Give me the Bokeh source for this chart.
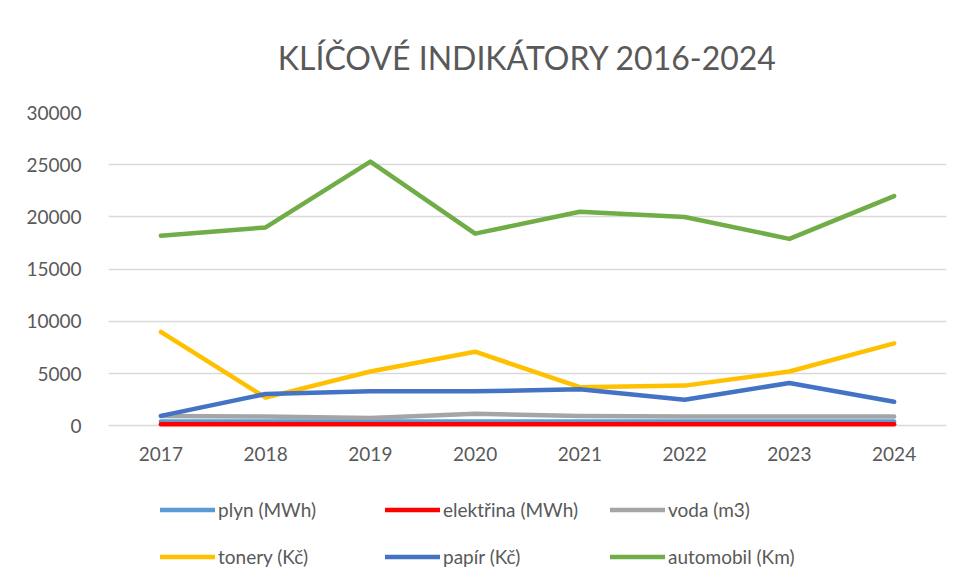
from bokeh.plotting import figure
from bokeh.models import Legend, LegendItem, FactorRange, Range1d, FixedTicker, NumeralTickFormatter
from bokeh.embed import file_html
from bokeh.resources import INLINE

years = ["2017", "2018", "2019", "2020", "2021", "2022", "2023", "2024"]
plyn = [420, 420, 420, 420, 420, 420, 420, 420]
elektrina = [150, 150, 150, 150, 150, 150, 150, 150]
voda = [950, 900, 750, 1150, 950, 900, 900, 900]
tonery = [9000, 2700, 5200, 7100, 3700, 3850, 5200, 7900]
papir = [950, 3050, 3300, 3300, 3500, 2500, 4100, 2300]
automobil = [18200, 19000, 25300, 18400, 20500, 20000, 17900, 22000]
y_ticks = [0, 5000, 10000, 15000, 20000, 25000, 30000]

series = [
    ("plyn (MWh)", plyn, "#5B9BD5"),
    ("elektřina (MWh)", elektrina, "#FF0000"),
    ("voda (m3)", voda, "#A5A5A5"),
    ("tonery (Kč)", tonery, "#FFC000"),
    ("papír (Kč)", papir, "#4472C4"),
    ("automobil (Km)", automobil, "#70AD47"),
]

FONT = "Lato"
TXT = "#595959"

# frame spans the area below the axis too, so the legend can sit inside it
p = figure(width=962, height=582, x_range=FactorRange(*years), y_range=Range1d(-15000, 30000),
           output_backend="svg", toolbar_location=None,
           min_border_left=108, min_border_right=16, min_border_top=111, min_border_bottom=0)

p.title.text = "KLÍČOVÉ INDIKÁTORY 2016-2024"
p.title.align = "center"
p.title.text_font = FONT
p.title.text_font_size = "32px"
p.title.text_font_style = "normal"
p.title.text_color = TXT
p.title.standoff = 71

p.outline_line_color = None
p.xgrid.grid_line_color = None
p.ygrid.grid_line_color = "#D9D9D9"
p.ygrid.grid_line_width = 1.3
p.yaxis.ticker = FixedTicker(ticks=y_ticks)
p.yaxis.formatter = NumeralTickFormatter(format="0")
p.xaxis.fixed_location = 0
for ax in (p.xaxis[0], p.yaxis[0]):
    ax.axis_line_color = None
    ax.major_tick_line_color = None
    ax.minor_tick_line_color = None
    ax.major_label_text_font = FONT
    ax.major_label_text_font_size = "19px"
    ax.major_label_text_color = TXT
p.yaxis.major_label_standoff = 21
p.xaxis.major_label_standoff = 15

items = []
for name, vals, col in series:
    r = p.line(years, vals, line_color=col, line_width=4.5, line_cap="round", line_join="round")
    items.append(LegendItem(label=name, renderers=[r]))

legend = Legend(items=items, orientation="horizontal", nrows=2, location=(52, 2),
                glyph_width=55, glyph_height=47, label_width=167, label_height=20,
                label_standoff=3, spacing=0, padding=0, margin=0,
                border_line_color=None, background_fill_alpha=0,
                label_text_font=FONT, label_text_font_size="19px", label_text_color=TXT)
p.add_layout(legend, "center")

open("out.html", "w").write(file_html(p, INLINE))
